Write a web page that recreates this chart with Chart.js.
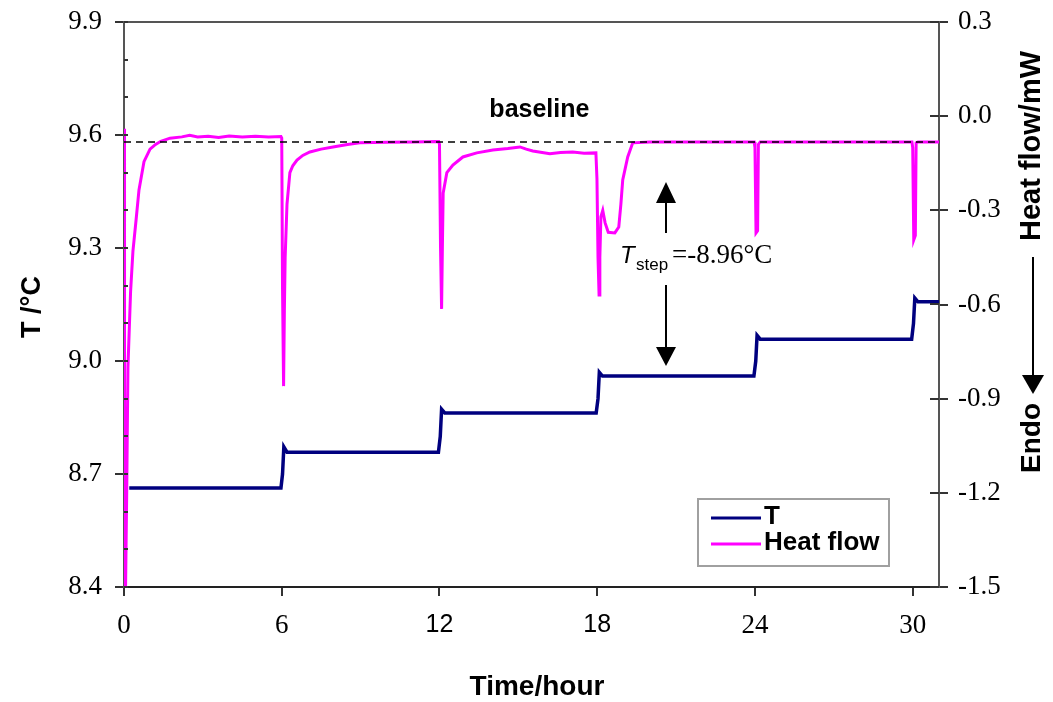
<!DOCTYPE html>
<html>
<head>
<meta charset="utf-8">
<title>T and heat flow vs time</title>
<script src="https://cdn.jsdelivr.net/npm/chart.js@4.4.1/dist/chart.umd.min.js"></script>
<style>
  html, body { margin: 0; padding: 0; background: #fff; }
  #wrap { width: 1053px; height: 702px; }
</style>
</head>
<body>
<div id="wrap"><canvas id="calChart" width="1053" height="702"></canvas></div>
<script>
// temperature programme (step every 6 h)
const tHours   = [0.2, 5.97, 6.03, 6.08, 6.2, 11.96, 12.03, 12.08, 12.2, 17.96, 18.03, 18.08, 18.2,
                  23.96, 24.03, 24.08, 24.2, 29.96, 30.03, 30.08, 30.2, 31];
const tCelsius = [8.663, 8.663, 8.70, 8.772, 8.758, 8.758, 8.80, 8.872, 8.862, 8.862, 8.90, 8.97, 8.96,
                  8.96, 9.0, 9.068, 9.058, 9.058, 9.10, 9.167, 9.157, 9.157];

// heat flow signal (mW)
const hfHours = [0, 0.02, 0.06, 0.1, 0.15, 0.2, 0.25, 0.34, 0.46, 0.57, 0.76, 0.99, 1.2, 1.4, 1.75,
                 2.2, 2.5, 2.8, 3.2, 3.6, 4.0, 4.5, 5.0, 5.5, 5.97,
                 6.0, 6.03, 6.07, 6.1, 6.13, 6.2, 6.31, 6.42, 6.58, 6.8, 7.07, 7.5, 7.95, 8.5, 8.97, 10, 11, 11.97,
                 12.0, 12.04, 12.08, 12.11, 12.14, 12.28, 12.51, 12.89, 13.42, 14.03, 14.6, 15.06, 15.3, 15.55,
                 16.2, 16.6, 17.07, 17.5, 17.95,
                 17.99, 18.03, 18.07, 18.1, 18.14, 18.21, 18.3, 18.42, 18.67, 18.82, 18.9, 18.97, 19.16, 19.35,
                 20, 22, 23.97, 24.0, 24.04, 24.1, 24.13, 24.2, 27, 29.97, 30.0, 30.04, 30.1, 30.13, 30.2, 31];
const hfMilliwatt = [-0.04, -1.5, -1.5, -1.22, -0.8, -0.68, -0.56, -0.43, -0.33, -0.235, -0.145, -0.105, -0.09, -0.08, -0.07,
                 -0.066, -0.061, -0.066, -0.064, -0.068, -0.063, -0.066, -0.064, -0.066, -0.065,
                 -0.07, -0.55, -0.86, -0.62, -0.45, -0.28, -0.18, -0.158, -0.14, -0.125, -0.114, -0.105, -0.098, -0.09, -0.085, -0.083, -0.082, -0.081,
                 -0.09, -0.42, -0.614, -0.42, -0.245, -0.18, -0.156, -0.13, -0.117, -0.108, -0.103, -0.098, -0.105, -0.111,
                 -0.12, -0.116, -0.114, -0.118, -0.117,
                 -0.2, -0.45, -0.57, -0.45, -0.32, -0.3, -0.34, -0.37, -0.372, -0.353, -0.28, -0.203, -0.13, -0.085,
                 -0.082, -0.082, -0.082, -0.1, -0.372, -0.365, -0.09, -0.082, -0.082, -0.082, -0.1, -0.394, -0.38, -0.085, -0.082, -0.082];

const baselineMw = -0.082;
const stepTemp = 8.96;      // level pointed at by the T_step arrow
const arrowHour = 20.6;

const xTicks = [0, 6, 12, 18, 24, 30];
const tTickStep = 0.3;
const hfTickStep = 0.3;

const NAVY = '#00007f';
const MAGENTA = '#ff00ff';
const AXIS = '#555';

function toPoints(xs, ys) {
    return xs.map((x, i) => ({ x: x, y: ys[i] }));
}

// extra drawing: inner ticks, top frame, annotations, titles, legend
const decorPlugin = {
    id: 'decor',
    afterDraw(chart) {
        const ctx = chart.ctx;
        const area = chart.chartArea;
        const xs = chart.scales.x, ys = chart.scales.y, ys2 = chart.scales.y2;
        ctx.save();

        // top frame line
        ctx.strokeStyle = AXIS;
        ctx.lineWidth = 2;
        ctx.beginPath();
        ctx.moveTo(area.left, area.top);
        ctx.lineTo(area.right, area.top);
        ctx.stroke();

        // left axis: minor ticks every 0.1 and inner part of major ticks
        ctx.strokeStyle = '#333';
        ctx.lineWidth = 2;
        for (let v = 8.4; v <= 9.9001; v += 0.1) {
            const py = Math.round(ys.getPixelForValue(v));
            ctx.beginPath();
            ctx.moveTo(area.left, py);
            ctx.lineTo(area.left + 4, py);
            ctx.stroke();
        }
        // right axis: inner part of major ticks
        for (let v = -1.5; v <= 0.3001; v += hfTickStep) {
            const py = Math.round(ys2.getPixelForValue(v));
            ctx.beginPath();
            ctx.moveTo(area.right - 9, py);
            ctx.lineTo(area.right, py);
            ctx.stroke();
        }

        // "baseline" label
        ctx.fillStyle = '#000';
        ctx.font = 'bold 25px "Liberation Sans"';
        ctx.textAlign = 'center';
        ctx.textBaseline = 'alphabetic';
        ctx.fillText('baseline', xs.getPixelForValue(15.8), ys2.getPixelForValue(baselineMw) - 25);

        // T_step arrows
        const ax = Math.round(xs.getPixelForValue(arrowHour));
        const tipDown = ys.getPixelForValue(stepTemp) - 10;
        ctx.strokeStyle = '#000';
        ctx.lineWidth = 2;
        ctx.beginPath();
        ctx.moveTo(ax, 233); ctx.lineTo(ax, 200);
        ctx.moveTo(ax, 285); ctx.lineTo(ax, tipDown - 15);
        ctx.stroke();
        ctx.beginPath();
        ctx.moveTo(ax, 182); ctx.lineTo(ax - 10, 203); ctx.lineTo(ax + 10, 203); ctx.closePath();
        ctx.moveTo(ax, tipDown); ctx.lineTo(ax - 10, tipDown - 19); ctx.lineTo(ax + 10, tipDown - 19); ctx.closePath();
        ctx.fill();

        // T_step = -8.96°C
        ctx.textAlign = 'left';
        ctx.font = 'italic 24px "Liberation Sans"';
        ctx.fillText('T', 620, 263);
        ctx.font = '17px "Liberation Sans"';
        ctx.fillText('step', 636, 270);
        ctx.font = '27px "Liberation Serif"';
        ctx.fillText('=-' + stepTemp.toFixed(2) + '°C', 672, 263);

        // axis titles
        ctx.font = 'bold 28px "Liberation Sans"';
        ctx.textAlign = 'center';
        ctx.textBaseline = 'middle';
        ctx.fillText('Time/hour', 537, 687);

        ctx.save();
        ctx.translate(33, 307);
        ctx.rotate(-Math.PI / 2);
        ctx.font = 'bold 27px "Liberation Sans"';
        ctx.fillText('T /°C', 0, 0);
        ctx.restore();

        ctx.save();
        ctx.translate(1032, 146);
        ctx.rotate(-Math.PI / 2);
        ctx.font = 'bold 29px "Liberation Sans"';
        ctx.fillText('Heat flow/mW', 0, 0);
        ctx.restore();

        // endo arrow
        ctx.beginPath();
        ctx.moveTo(1033, 257); ctx.lineTo(1033, 378);
        ctx.stroke();
        ctx.beginPath();
        ctx.moveTo(1033, 394); ctx.lineTo(1022, 375); ctx.lineTo(1044, 375); ctx.closePath();
        ctx.fill();

        ctx.save();
        ctx.translate(1032, 438);
        ctx.rotate(-Math.PI / 2);
        ctx.font = 'bold 28px "Liberation Sans"';
        ctx.fillText('Endo', 0, 0);
        ctx.restore();

        // legend box
        ctx.fillStyle = '#fff';
        ctx.fillRect(698, 499, 191, 67);
        ctx.strokeStyle = '#a0a0a0';
        ctx.lineWidth = 2;
        ctx.strokeRect(698, 499, 191, 67);
        const entries = chart.data.datasets
            .filter(d => d.legendRow !== undefined)
            .sort((a, b) => a.legendRow - b.legendRow);
        entries.forEach((d, i) => {
            const ly = 518 + i * 26;
            ctx.strokeStyle = d.borderColor;
            ctx.lineWidth = 3;
            ctx.beginPath();
            ctx.moveTo(711, ly);
            ctx.lineTo(761, ly);
            ctx.stroke();
            ctx.fillStyle = '#000';
            ctx.font = 'bold 26px "Liberation Sans"';
            ctx.textAlign = 'left';
            ctx.textBaseline = 'alphabetic';
            ctx.fillText(d.label, 764, ly + 6);
        });

        ctx.restore();
    }
};

const ctx = document.getElementById('calChart').getContext('2d');
const calChart = new Chart(ctx, {
    type: 'line',
    data: {
        datasets: [
            {
                label: 'baseline',
                data: [{ x: 0, y: baselineMw }, { x: 31, y: baselineMw }],
                yAxisID: 'y2',
                borderColor: '#000',
                borderWidth: 1.5,
                borderDash: [7, 5],
                pointRadius: 0
            },
            {
                label: 'Heat flow',
                data: toPoints(hfHours, hfMilliwatt),
                yAxisID: 'y2',
                borderColor: MAGENTA,
                borderWidth: 3,
                pointRadius: 0,
                tension: 0,
                legendRow: 1
            },
            {
                label: 'T',
                data: toPoints(tHours, tCelsius),
                yAxisID: 'y',
                borderColor: NAVY,
                borderWidth: 3.5,
                pointRadius: 0,
                tension: 0,
                legendRow: 0
            }
        ]
    },
    options: {
        responsive: false,
        animation: false,
        devicePixelRatio: 1,
        layout: { padding: { top: 22, left: 0, right: 0, bottom: 0 } },
        plugins: {
            legend: { display: false },
            tooltip: { enabled: false }
        },
        scales: {
            x: {
                type: 'linear',
                min: 0,
                max: 31,
                afterBuildTicks: s => { s.ticks = xTicks.map(v => ({ value: v })); },
                afterFit: s => { s.height = 115; },
                border: { color: '#222', width: 2 },
                grid: { drawOnChartArea: false, tickLength: 9, color: '#333', lineWidth: 2 },
                ticks: {
                    color: '#000',
                    padding: 14,
                    maxRotation: 0,
                    font: c => (c.tick && (c.tick.value === 12 || c.tick.value === 18))
                        ? { family: 'Liberation Sans', size: 25 }
                        : { family: 'Liberation Serif', size: 27 }
                }
            },
            y: {
                position: 'left',
                min: 8.4,
                max: 9.9,
                afterFit: s => { s.width = 124; s.paddingTop = 0; s.paddingBottom = 0; },
                border: { color: AXIS, width: 2 },
                grid: { drawOnChartArea: false, tickLength: 9, color: '#333', lineWidth: 2 },
                ticks: {
                    stepSize: tTickStep,
                    color: '#000',
                    padding: 13,
                    font: { family: 'Liberation Serif', size: 27 },
                    callback: v => Number(v).toFixed(1)
                }
            },
            y2: {
                position: 'right',
                min: -1.5,
                max: 0.3,
                afterFit: s => { s.width = 114; s.paddingTop = 0; s.paddingBottom = 0; },
                border: { color: AXIS, width: 2 },
                grid: { drawOnChartArea: false, tickLength: 9, color: '#333', lineWidth: 2 },
                ticks: {
                    stepSize: hfTickStep,
                    color: '#000',
                    padding: 10,
                    font: { family: 'Liberation Serif', size: 27 },
                    callback: v => Math.abs(v) < 1e-9 ? '0.0' : Number(v).toFixed(1)
                }
            }
        }
    },
    plugins: [decorPlugin]
});
</script>
</body>
</html>
